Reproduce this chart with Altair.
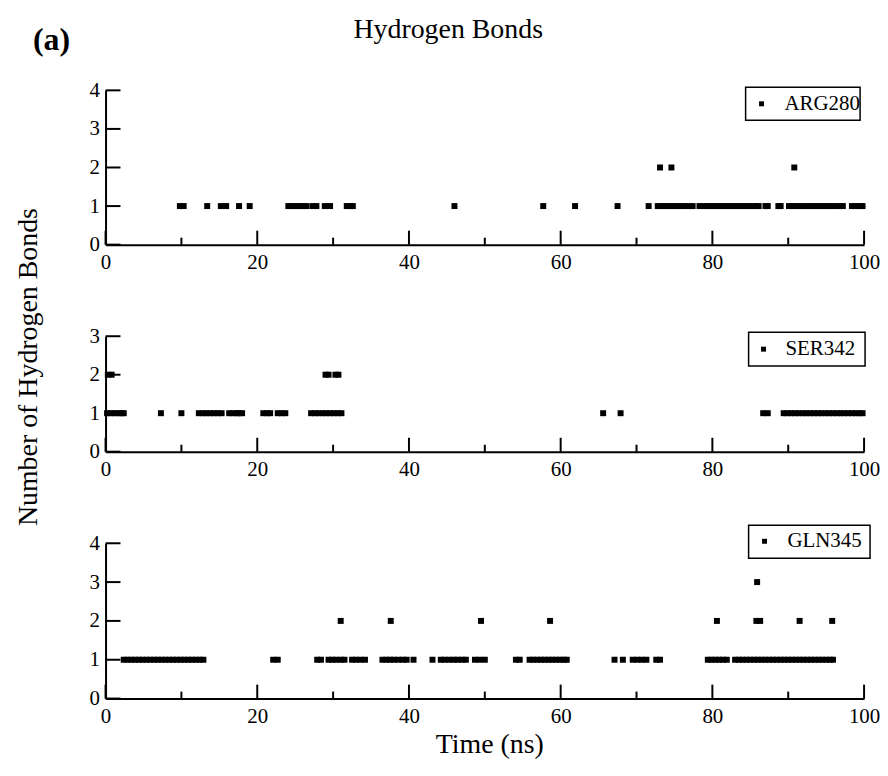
import altair as alt
import pandas as pd

FONT = "Liberation Serif"

# ---------------- data ----------------
arg280_one = [9.8, 10.3, 13.4, 15.2, 15.9, 17.6, 19.0,
              24.1, 24.6, 25.1, 25.6, 26.0, 26.5, 27.3, 27.8, 28.9, 29.6,
              31.8, 32.2, 32.6, 46.0, 57.7, 61.9, 67.5, 71.6,
              72.8, 73.3, 73.8, 74.3, 74.8, 75.3, 75.8, 76.3, 76.9, 77.4,
              78.3, 78.8, 79.3, 79.8, 80.3, 80.8, 81.3, 81.8, 82.3, 82.8,
              83.3, 83.8, 84.3, 84.8, 85.3, 85.7, 86.1, 87.0, 87.3, 88.7, 89.0,
              90.1, 90.6, 91.1, 91.6, 92.1, 92.6, 93.1, 93.6, 94.1, 94.6,
              95.1, 95.6, 96.1, 96.7, 97.2, 98.4, 98.9, 99.4, 99.8]
arg280_two = [73.1, 74.6, 90.8]

ser342_one = [0.2, 0.7, 1.2, 1.7, 2.1, 2.4, 7.3, 10.0,
              12.3, 12.8, 13.3, 13.8, 14.3, 14.8, 15.3, 16.3, 16.8, 17.3, 17.6, 18.0,
              20.8, 21.3, 21.7, 22.7, 23.2, 23.7,
              27.1, 27.6, 28.1, 28.6, 29.1, 29.6, 30.1, 30.6, 31.1,
              65.6, 67.9, 86.7, 87.3,
              89.4, 89.9, 90.4, 90.9, 91.4, 91.9, 92.4, 92.9, 93.4, 93.9, 94.4,
              94.9, 95.4, 95.9, 96.4, 96.9, 97.4, 97.9, 98.4, 98.9, 99.4, 99.8]
ser342_two = [0.3, 0.8, 29.0, 29.4, 30.3, 30.7]

gln345_one = [2.4, 2.9, 3.4, 3.9, 4.4, 4.9, 5.4, 5.9, 6.4, 6.9, 7.4, 7.9, 8.4,
              8.9, 9.4, 9.9, 10.4, 10.9, 11.4, 11.9, 12.4, 12.9,
              22.1, 22.7, 27.9, 28.4, 29.4, 29.9, 30.4, 31.0, 31.5,
              32.5, 33.0, 33.6, 34.2, 36.5, 37.0, 37.5, 38.0, 38.6, 39.2, 39.7, 40.6,
              43.1, 44.2, 44.7, 45.3, 45.9, 46.4, 47.0, 47.5, 48.7, 49.3, 50.0,
              54.1, 54.6, 55.9, 56.4, 56.9, 57.4, 57.9, 58.4, 58.9, 59.4, 59.9, 60.4, 60.8,
              67.1, 68.2, 69.5, 70.1, 70.7, 71.3, 72.6, 73.1,
              79.4, 79.9, 80.4, 80.9, 81.4, 81.9,
              83.0, 83.5, 84.0, 84.5, 85.0, 85.5, 86.0, 86.5, 87.0, 87.5, 88.0,
              88.5, 89.0, 89.5, 90.0, 90.5, 91.0, 91.5, 92.0, 92.5, 93.0, 93.5,
              94.0, 94.5, 95.0, 95.5, 95.9]
gln345_two = [31.0, 37.6, 49.5, 58.6, 80.6, 85.8, 86.3, 91.5, 95.8]
gln345_three = [85.9]

x_major = [0, 20, 40, 60, 80, 100]
x_minor = [10, 30, 50, 70, 90]

W = 762


def frame(groups):
    rows = []
    for value, times in groups:
        rows += [{"time": t, "bonds": value} for t in times]
    return pd.DataFrame(rows)


def axis(values, pad):
    return alt.Axis(values=values, ticks=False, tickSize=0, grid=False,
                    domain=True, domainColor="black", domainWidth=2,
                    labelFont=FONT, labelFontSize=21, labelColor="black",
                    labelPadding=pad, labelFlush=False, title=None)


def panel(df, ymax, height, label, box, marker, text_x, extras=()):
    yvals = list(range(ymax + 1))
    xscale = alt.Scale(domain=[0, 100], nice=False, zero=False)
    yscale = alt.Scale(domain=[0, ymax], nice=False)
    xax = axis(x_major, 7)
    yax = axis(yvals, 6)
    pts = alt.Chart(df).mark_square(size=36, color="black", opacity=1).encode(
        x=alt.X("time:Q", scale=xscale, axis=xax),
        y=alt.Y("bonds:Q", scale=yscale, axis=yax),
    )
    major = alt.Chart(pd.DataFrame({"time": x_major})).mark_rule(color="black", strokeWidth=2).encode(
        x=alt.X("time:Q", scale=xscale, axis=xax),
        y=alt.value(height), y2=alt.value(height - 14))
    minor = alt.Chart(pd.DataFrame({"time": x_minor})).mark_rule(color="black", strokeWidth=2).encode(
        x=alt.X("time:Q", scale=xscale, axis=xax),
        y=alt.value(height), y2=alt.value(height - 7))
    yt = alt.Chart(pd.DataFrame({"bonds": yvals})).mark_rule(color="black", strokeWidth=2).encode(
        y=alt.Y("bonds:Q", scale=yscale, axis=yax),
        x=alt.value(0), x2=alt.value(15))
    lab = pd.DataFrame({"label": [label]})
    rect = alt.Chart(lab).mark_rect(fill="white", stroke="black", strokeWidth=1.5).encode(
        x=alt.value(box[0]), x2=alt.value(box[1]), y=alt.value(box[2]), y2=alt.value(box[3]))
    msq = alt.Chart(lab).mark_square(size=25, color="black", opacity=1).encode(
        x=alt.value(marker[0]), y=alt.value(marker[1]))
    txt = alt.Chart(lab).mark_text(align="left", baseline="middle", font=FONT,
                                   fontSize=21, color="black").encode(
        text="label:N", x=alt.value(text_x), y=alt.value(marker[1]))
    layers = [pts, major, minor, yt, rect, msq, txt] + list(extras)
    return alt.layer(*layers).properties(width=W, height=height)


one = pd.DataFrame({"k": [0]})
title_txt = alt.Chart(one).mark_text(text="Hydrogen Bonds", align="left", baseline="alphabetic",
                                     font=FONT, fontSize=28, color="black").encode(
    x=alt.value(249), y=alt.value(-53))
a_txt = alt.Chart(one).mark_text(text="(a)", align="left", baseline="alphabetic",
                                 font=FONT, fontSize=32, fontWeight="bold", color="black").encode(
    x=alt.value(-73), y=alt.value(-41))
ytitle = alt.Chart(one).mark_text(text="Number of Hydrogen Bonds", align="center", baseline="middle",
                                  angle=270, font=FONT, fontSize=28, color="black").encode(
    x=alt.value(-77), y=alt.value(31))
xtitle = alt.Chart(one).mark_text(text="Time (ns)", align="center", baseline="middle",
                                  font=FONT, fontSize=28, color="black").encode(
    x=alt.value(386), y=alt.value(156 + 47))

p1 = panel(frame([(1, arg280_one), (2, arg280_two)]), 4, 155, "ARG280",
           (643, 758, -3, 30), (659, 13.5), 682, extras=(title_txt, a_txt))
p2 = panel(frame([(1, ser342_one), (2, ser342_two)]), 3, 116, "SER342",
           (646, 763, -4, 30), (661, 13), 683, extras=(ytitle,))
p3 = panel(frame([(1, gln345_one), (2, gln345_two), (3, gln345_three)]), 4, 156, "GLN345",
           (646, 768, -18, 15), (662, -2), 685, extras=(xtitle,))

chart = alt.vconcat(p1, p2, p3, spacing=92, bounds="flush").properties(
    padding={"left": 6, "top": 6, "right": 0, "bottom": 0},
    background="white"
).configure_view(stroke=None).configure_axis(grid=False)

chart.save("out.html", embed_options={"renderer": "svg", "actions": False})
